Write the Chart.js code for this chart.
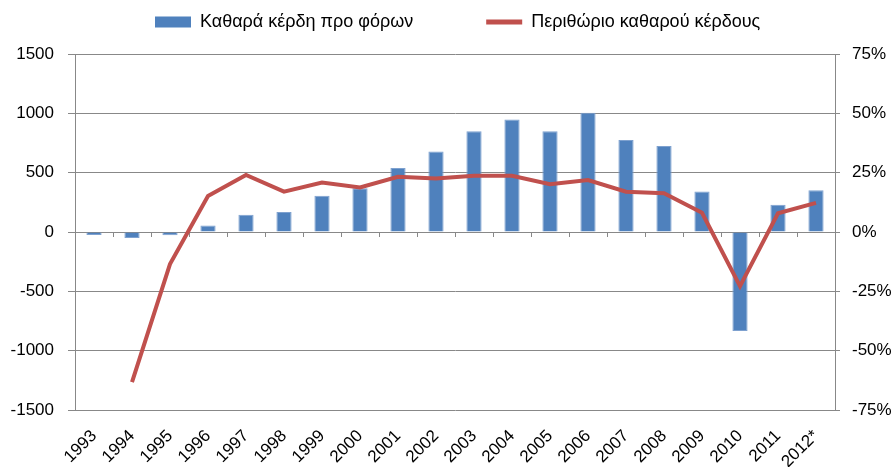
<!DOCTYPE html>
<html>
<head>
<meta charset="utf-8">
<script src="https://cdn.jsdelivr.net/npm/chart.js@4"></script>
<style>
  body { margin: 0; background: #fff; }
  #wrap { width: 895px; height: 467px; }
</style>
</head>
<body>
<div id="wrap"><canvas id="myChart"></canvas></div>
<script>
const years = ['1993','1994','1995','1996','1997','1998','1999','2000','2001','2002',
  '2003','2004','2005','2006','2007','2008','2009','2010','2011','2012*']

// καθαρά κέρδη προ φόρων
const profits = [-25, -50, -28, 55, 145, 168, 305, 368, 540, 678,
  850, 948, 850, 1005, 775, 725, 342, -835, 230, 352]

// περιθώριο (%)
const margin = [null, -63.3, -13.5, 15.2, 24, 17, 20.8, 18.8, 23.3, 22.5,
  23.7, 23.7, 20.1, 21.9, 17, 16.3, 8.1, -22.8, 7.9, 12.3]

const leftTicks = [-1500, 1500, 500]
const rightTicks = [-75, 75, 25]

const font = "'Liberation Sans', sans-serif"
const gridCol = '#888888'

// moves the legend to where it sits in the original
const legendShift = {
  id: 'legendShift',
  afterLayout(chart) {
    const lg = chart.legend
    lg.left += 82; lg.right += 82
    lg.top -= 64
  }
}

const ctx = document.getElementById('myChart')
new Chart(ctx, {
  data: {
    labels: years,
    datasets: [
      {
        type: 'line',
        label: 'Περιθώριο καθαρού κέρδους',
        data: margin,
        yAxisID: 'y2',
        borderColor: '#C0504D',
        backgroundColor: '#C0504D',
        borderWidth: 4,
        pointRadius: 0,
        tension: 0,
        order: 1
      },
      {
        type: 'bar',
        label: 'Καθαρά κέρδη προ φόρων',
        data: profits,
        yAxisID: 'y',
        backgroundColor: '#4F81BD',
        borderColor: '#7EA1CF',
        borderWidth: 1,
        categoryPercentage: 1,
        barPercentage: 0.4,
        order: 2
      }
    ]
  },
  plugins: [legendShift],
  options: {
    responsive: true,
    maintainAspectRatio: false,
    animation: false,
    layout: { padding: { top: 4, right: 0, left: 0, bottom: 0 } },
    plugins: {
      tooltip: { enabled: false },
      legend: {
        reverse: true,
        align: 'start',
        maxHeight: 50,
        labels: {
          usePointStyle: true,
          pointStyleWidth: 36,
          boxHeight: 11,
          color: '#000',
          padding: 73,
          font: { family: font, size: 18 },
          generateLabels: chart => {
            const items = Chart.defaults.plugins.legend.labels.generateLabels(chart)
            items.forEach(it => {
              const ds = chart.data.datasets[it.datasetIndex]
              it.pointStyle = ds.type === 'line' ? 'line' : 'rect'
              it.lineWidth = ds.type === 'line' ? 5 : 0
              it.strokeStyle = ds.type === 'line' ? '#C0504D' : '#4F81BD'
            })
            return items
          }
        }
      }
    },
    scales: {
      x: {
        offset: true,
        afterFit: s => { s.height = 57 },
        grid: { display: false },
        border: { display: false },
        ticks: { color: '#000', minRotation: 45, maxRotation: 45, padding: 8,
          font: { family: font, size: 17 } }
      },
      // tick marks along the zero line
      xz: {
        type: 'category',
        position: { y: 0 },
        offset: true,
        grid: { drawOnChartArea: false, tickLength: 5, color: gridCol, offset: true },
        border: { display: false },
        ticks: { display: false }
      },
      y: {
        position: 'left',
        min: leftTicks[0], max: leftTicks[1],
        afterFit: s => { s.width = 75 },
        grid: { color: gridCol, tickLength: 7 },
        border: { color: gridCol },
        ticks: { stepSize: leftTicks[2], color: '#000', padding: 14,
          callback: v => String(v),
          font: { family: font, size: 17 } }
      },
      y2: {
        position: 'right',
        min: rightTicks[0], max: rightTicks[1],
        afterFit: s => { s.width = 60 },
        grid: { drawOnChartArea: false, color: gridCol, tickLength: 5 },
        border: { color: gridCol },
        ticks: { stepSize: rightTicks[2], color: '#000', padding: 12,
          callback: v => v + '%',
          font: { family: font, size: 17 } }
      }
    }
  }
})
</script>
</body>
</html>
